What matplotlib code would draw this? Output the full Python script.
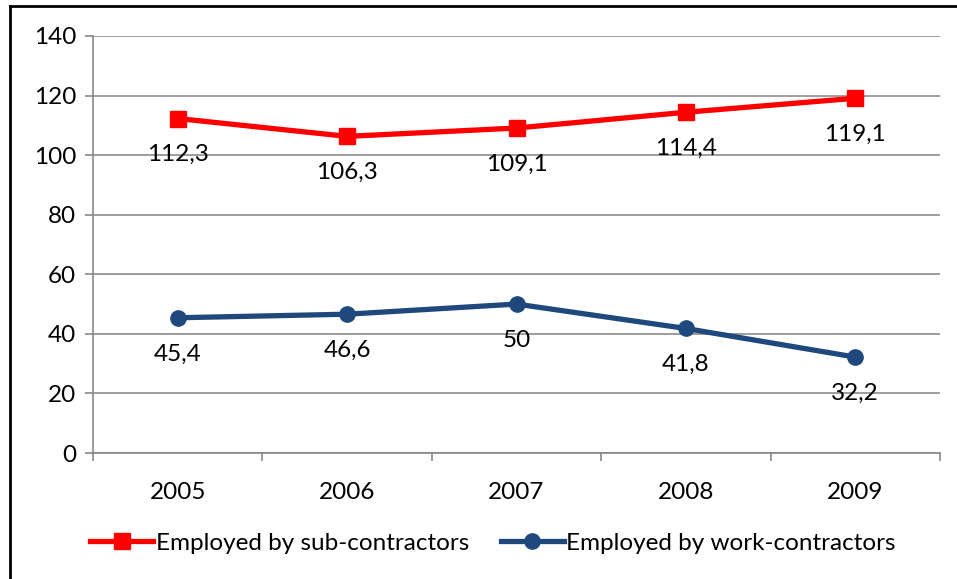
import matplotlib.pyplot as plt
from matplotlib.lines import Line2D

years = ["2005", "2006", "2007", "2008", "2009"]
sub_contractors = [112.3, 106.3, 109.1, 114.4, 119.1]
work_contractors = [45.4, 46.6, 50.0, 41.8, 32.2]
sub_labels = ["112,3", "106,3", "109,1", "114,4", "119,1"]
work_labels = ["45,4", "46,6", "50", "41,8", "32,2"]

plt.rcParams['font.family'] = ['Lato', 'DejaVu Sans']
fs = 17.5

fig = plt.figure(figsize=(9.57, 5.79), dpi=100)
ax = fig.add_axes([93 / 957, 1 - 453 / 579, 847 / 957, 417 / 579])

x = list(range(len(years)))
red = "#FF0000"
blue = "#1F497D"

ax.plot(x, sub_contractors, color=red, lw=3.8, marker="s", ms=11.5,
        label="Employed by sub-contractors", zorder=3)
ax.plot(x, work_contractors, color=blue, lw=3.8, marker="o", ms=11,
        label="Employed by work-contractors", zorder=3)

for xi, v, s in zip(x, sub_contractors, sub_labels):
    ax.annotate(s, (xi, v), xytext=(0, -26), textcoords="offset points",
                ha="center", va="center", fontsize=fs)
for xi, v, s in zip(x, work_contractors, work_labels):
    ax.annotate(s, (xi, v), xytext=(0, -26), textcoords="offset points",
                ha="center", va="center", fontsize=fs)

ax.set_xlim(-0.5, len(years) - 0.5)
ax.set_ylim(0, 140)
ax.set_yticks(range(0, 141, 20))
ax.tick_params(axis="y", labelsize=fs, length=6, width=1.2, color="#888888", pad=6)
ax.set_xticks(x)
ax.set_xticklabels(years)
ax.set_xticks([i - 0.5 for i in range(len(years) + 1)], minor=True)
ax.tick_params(axis="x", which="major", length=0, labelsize=fs, pad=21)
ax.tick_params(axis="x", which="minor", length=6, width=1.2, color="#888888")
ax.grid(axis="y", color="#8C8C8C", lw=1.2)
ax.set_axisbelow(True)
for side in ["top", "right"]:
    ax.spines[side].set_visible(False)
for side in ["left", "bottom"]:
    ax.spines[side].set_color("#888888")
    ax.spines[side].set_linewidth(1.2)

fig.legend(loc="center", bbox_to_anchor=(0.515, 1 - 543 / 579), ncol=2,
           frameon=False, fontsize=fs, handlelength=2.6, handletextpad=0.1,
           columnspacing=1.3)

# outer border (top and left edges visible)
fig.add_artist(Line2D([10 / 957, 1], [1 - 6 / 579, 1 - 6 / 579],
                      transform=fig.transFigure, color="black", lw=2))
fig.add_artist(Line2D([10 / 957, 10 / 957], [0, 1 - 6 / 579],
                      transform=fig.transFigure, color="black", lw=2))

fig.savefig("out.png", dpi=100)
